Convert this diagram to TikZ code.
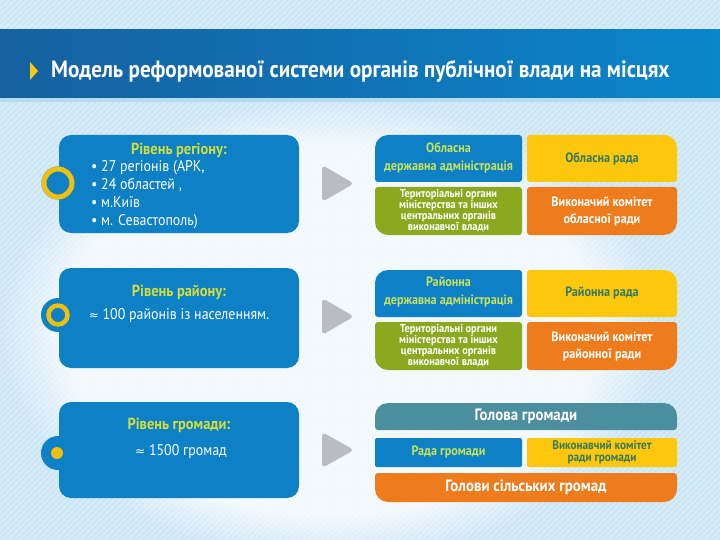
\documentclass[tikz,border=0pt]{standalone}
\usepackage{fontspec}
\setmainfont{PT Sans}
\newfontfamily\cf[FakeStretch=0.9]{PT Sans}
\newfontfamily\sym{DejaVu Sans}
\usetikzlibrary{patterns.meta,fadings}
\definecolor{bgblue}{HTML}{D6EBF8}
\definecolor{hatch}{HTML}{C2DFF3}
\definecolor{hdrL}{HTML}{16609F}
\definecolor{hdrR}{HTML}{0A86CB}
\definecolor{lvlblue}{HTML}{0D80C6}
\definecolor{ygreen}{HTML}{D2DE3C}
\definecolor{lgreen}{HTML}{C6E25A}
\definecolor{byellow}{HTML}{FDC70C}
\definecolor{bgreen}{HTML}{8AA91F}
\definecolor{borange}{HTML}{EE7B1C}
\definecolor{bteal}{HTML}{4B8E9E}
\definecolor{dgreen}{HTML}{357A5E}
\definecolor{tri}{HTML}{B9BDC1}
\definecolor{ring}{HTML}{F1C00F}
\tikzset{
  lvl/.style={fill=lvlblue,rounded corners=12},
  ttl/.style={font=\cf\bfseries\fontsize{16}{18}\selectfont,text=ygreen},
  txt/.style={font=\cf\fontsize{15.5}{18}\selectfont,text=white},
  rt/.style={font=\cf\bfseries\fontsize{13.5}{18}\selectfont,align=center},
  yt/.style={font=\cf\bfseries\fontsize{13.5}{16.5}\selectfont,align=center},
  gt/.style={font=\cf\bfseries\fontsize{11.5}{11}\selectfont,align=center,text=white},
  bt/.style={font=\cf\bfseries\fontsize{16.5}{18}\selectfont,align=center,text=white},
  arr/.style={fill=tri,rounded corners=4}
}
\begin{document}
\begin{tikzpicture}[x=1pt,y=-1pt]
\useasboundingbox (0,0) rectangle (720,540);
% background
\fill[bgblue] (0,0) rectangle (720,540);
\fill[pattern={Lines[angle=45,distance=4pt,line width=1.2pt]},pattern color=hatch] (0,0) rectangle (720,540);
\fill[white,opacity=0.75,path fading=circle with fuzzy edge 20 percent] (330,330) ellipse (330 and 230);
% header
\shade[left color=hdrL,right color=hdrR] (0,30) rectangle (720,98);
\fill[hdrR!30!white] (0,98) rectangle (720,102);
\fill[byellow] (30,62) -- (38,71) -- (30,80) -- cycle;
\node[anchor=west,inner sep=0,font=\cf\bfseries\fontsize{23.5}{26}\selectfont,text=white] (title) at (51,71) {Модель реформованої системи органів публічної влади на місцях};
% ---------- left level boxes ----------
\fill[lvl] (59,135) rectangle (299,233);
\fill[lvlblue] (58,183) circle (16.5);
\draw[ring,line width=5pt] (58,183) circle (14);
\node[ttl] (t1) at (179,150) {Рівень регіону:};
\node[txt,anchor=north west,align=left,inner sep=0] (l1) at (91,160) {• 27 регіонів (АРК,\\• 24 областей ,\\• м.Київ\\• м. Севастополь)};

\fill[lvl] (59,268) rectangle (299,368);
\fill[lvlblue] (58,315) circle (17);
\draw[ring,line width=4.5pt] (58,315) circle (9.5);
\node[ttl] (t2) at (179,292) {Рівень району:};
\node[txt] (l2) at (179,316) {{\sym\fontsize{12}{14}\selectfont ≈} 100 районів із населенням.};

\fill[lvl] (59,402) rectangle (299,498);
\fill[lvlblue] (58,453) circle (17);
\fill[ring] (57,453) circle (6);
\node[ttl] (t3) at (179,425) {Рівень громади:};
\node[txt] (l3) at (181,452) {{\sym\fontsize{12}{14}\selectfont ≈} 1500 громад};
% ---------- triangles ----------
\fill[arr] (322,165) -- (354,183.5) -- (322,202) -- cycle;
\fill[arr] (322,298) -- (354,316.5) -- (322,335) -- cycle;
\fill[arr] (322,432) -- (354,450) -- (322,468) -- cycle;
% ---------- level 1 right ----------
\begin{scope}\clip[rounded corners=13] (375,135) rectangle (560,230);\fill[lvlblue,rounded corners=3] (375,135) rectangle (522,182);\end{scope}
\begin{scope}\clip[rounded corners=13] (490,135) rectangle (677,230);\fill[byellow,rounded corners=3] (527,135) rectangle (677,182);\end{scope}
\begin{scope}\clip[rounded corners=13] (375,150) rectangle (560,235);\fill[bgreen,rounded corners=3] (375,187) rectangle (522,235);\end{scope}
\begin{scope}\clip[rounded corners=13] (490,150) rectangle (677,235);\fill[borange,rounded corners=3] (527,187) rectangle (677,235);\end{scope}
\node[rt,text=lgreen] (a1) at (448.5,157.5) {Обласна\\державна адміністрація};
\node[yt,text=dgreen] (b1) at (602,158.5) {Обласна рада};
\node[gt] (c1) at (448.5,211) {Територіальні органи\\міністерства та інших\\центральних органів\\виконавчої влади};
\node[yt,text=white] (d1) at (602,211.5) {Виконачий комітет\\обласної ради};
% ---------- level 2 right ----------
\begin{scope}\clip[rounded corners=13] (375,270) rectangle (560,365);\fill[lvlblue,rounded corners=3] (375,270) rectangle (522,317);\end{scope}
\begin{scope}\clip[rounded corners=13] (490,270) rectangle (677,365);\fill[byellow,rounded corners=3] (527,270) rectangle (677,317);\end{scope}
\begin{scope}\clip[rounded corners=13] (375,285) rectangle (560,370);\fill[bgreen,rounded corners=3] (375,322) rectangle (522,370);\end{scope}
\begin{scope}\clip[rounded corners=13] (490,285) rectangle (677,370);\fill[borange,rounded corners=3] (527,322) rectangle (677,370);\end{scope}
\node[rt,text=lgreen] (a2) at (448.5,292.5) {Районна\\державна адміністрація};
\node[yt,text=dgreen] (b2) at (602,293.5) {Районна рада};
\node[gt] (c2) at (448.5,346) {Територіальні органи\\міністерства та інших\\центральних органів\\виконавчої влади};
\node[yt,text=white] (d2) at (602,346.5) {Виконачий комітет\\районної ради};
% ---------- level 3 right ----------
\begin{scope}\clip[rounded corners=13] (375,403) rectangle (677,460);\fill[bteal,rounded corners=3] (375,403) rectangle (677,430);\end{scope}
\fill[lvlblue,rounded corners=2] (375,438) rectangle (522,467);
\fill[byellow,rounded corners=2] (527,438) rectangle (677,467);
\begin{scope}\clip[rounded corners=13] (375,440) rectangle (677,502);\fill[borange,rounded corners=3] (375,473) rectangle (677,502);\end{scope}
\node[bt] (e3) at (526,416.5) {Голова громади};
\node[yt,text=lgreen] (a3) at (448.5,452.5) {Рада громади};
\node[yt,text=dgreen,font=\cf\bfseries\fontsize{12.5}{12.5}\selectfont] (b3) at (602,452.5) {Виконавчий комітет\\ради громади};
\node[bt] (f3) at (526,487.5) {Голови сільських громад};
\end{tikzpicture}
\end{document}
